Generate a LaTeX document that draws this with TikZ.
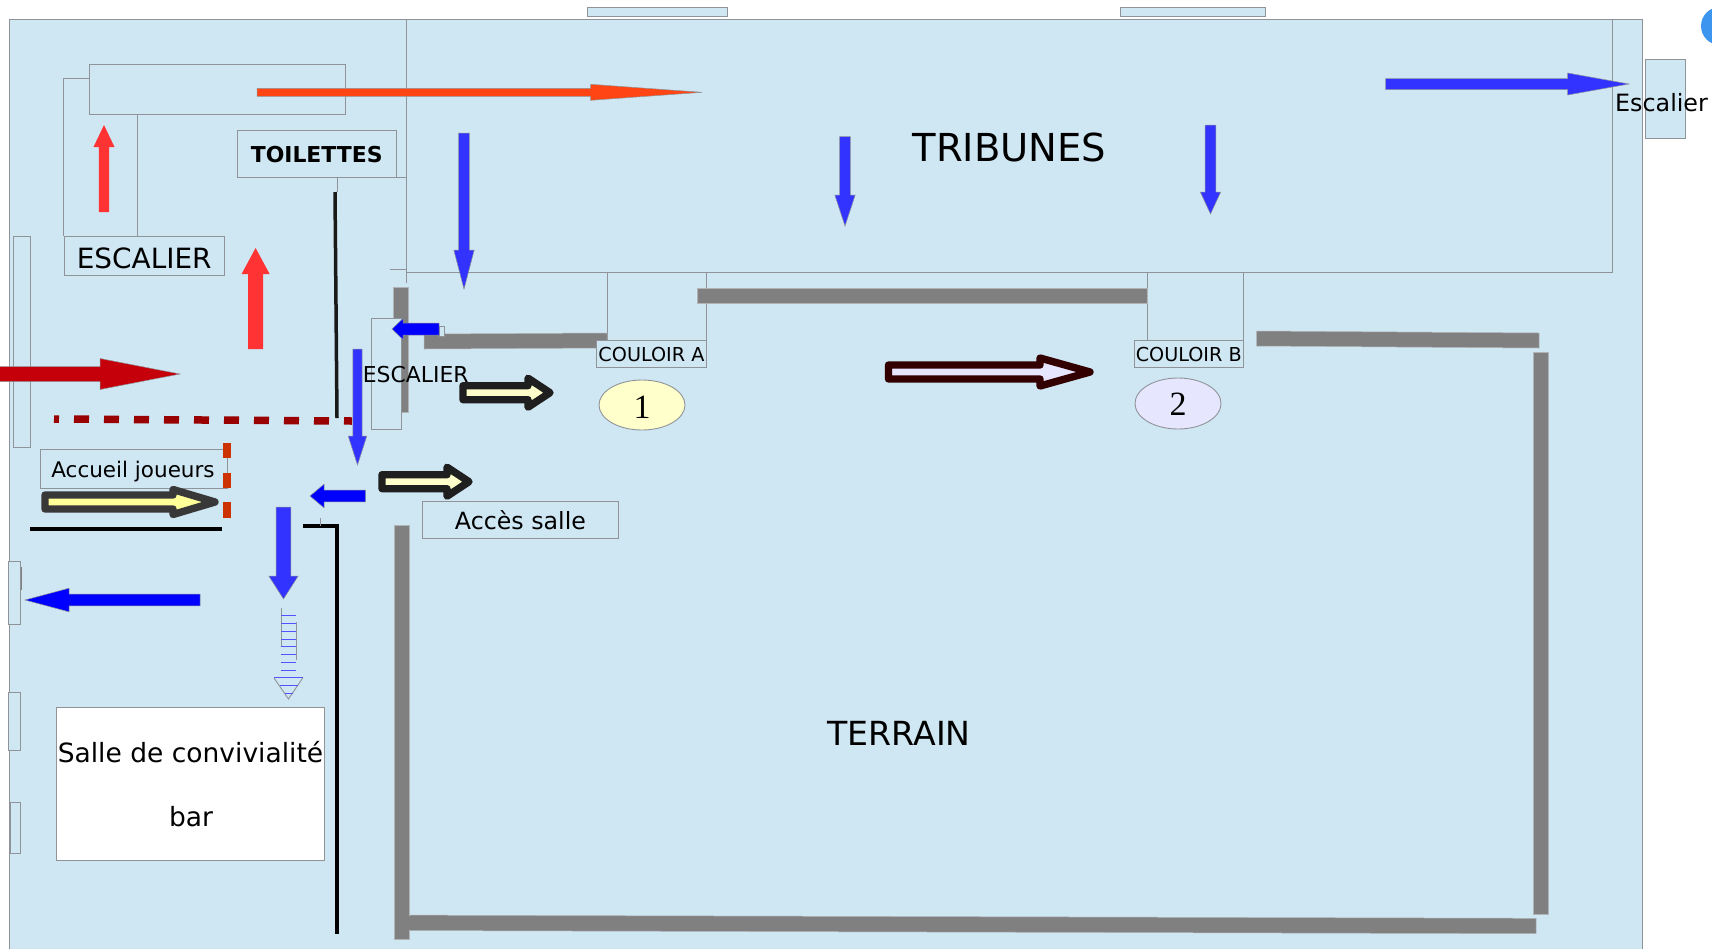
\documentclass[tikz,border=0pt]{standalone}
\usepackage{fontspec}
\usetikzlibrary{shapes.geometric}
\setmainfont{DejaVu Sans}
\newfontfamily\numfont{Liberation Serif}
\definecolor{bgc}{HTML}{CFE6F3}
\definecolor{lnc}{HTML}{909498}
\definecolor{wallc}{HTML}{808080}
\definecolor{blc}{HTML}{3333FF}
\definecolor{bbc}{HTML}{0000FF}
\definecolor{rdc}{HTML}{FF3333}
\definecolor{orgc}{HTML}{FF4513}
\definecolor{drdc}{HTML}{C5000B}
\definecolor{dshc}{HTML}{990000}
\definecolor{orsc}{HTML}{CC3300}
\definecolor{ylwc}{HTML}{FFFFCC}
\definecolor{ylbc}{HTML}{FFFF99}
\definecolor{lavc}{HTML}{E6E6FF}
\definecolor{marc}{HTML}{330000}
\definecolor{circ}{HTML}{3C96F0}
\newcommand{\fs}[1]{\fontsize{#1}{#1}\selectfont}
\newcommand{\lowr}[2]{\raisebox{-#1pt}[\height][\depth]{#2}}
% horizontal arrow: start, head base, tip, centre y, half body, half head
\newcommand{\harr}[7]{\draw[#1] (#2,#5-#6)--(#3,#5-#6)--(#3,#5-#7)--(#4,#5)--(#3,#5+#7)--(#3,#5+#6)--(#2,#5+#6)--cycle;}
% vertical arrow: start, head base, tip, centre x, half body, half head
\newcommand{\varr}[7]{\draw[#1] (#5-#6,#2)--(#5-#6,#3)--(#5-#7,#3)--(#5,#4)--(#5+#7,#3)--(#5+#6,#3)--(#5+#6,#2)--cycle;}
\tikzset{
  boxs/.style={draw=lnc,line width=.9pt,fill=bgc},
  thinl/.style={draw=lnc,line width=.9pt},
  wallbar/.style={fill=wallc,draw=lnc!70!white,line width=.5pt},
  ablue/.style={fill=blc,draw=lnc,line width=.5pt},
  abb/.style={fill=bbc,draw=lnc,line width=.5pt},
  ared/.style={fill=rdc,draw=none},
  hatchl/.style={draw=blc!85!white,line width=.9pt},
  lbl/.style={inner sep=0pt,text=black},
  blk/.style={draw=#1,line width=7.4pt,line join=round},
}
\begin{document}
\begin{tikzpicture}[x=1pt,y=-1pt]
\useasboundingbox (0,0) rectangle (1712,948);
\fill[white] (0,0) rectangle (1712,948);
\begin{scope}
\clip (0,0) rectangle (1712,948);
% circle cut by the right edge
\fill[circ] (1720,26) circle (19);
% hall
\draw[boxs] (9.6,19) -- (1642,19) -- (1642,960) -- (9.6,960) -- cycle;
\draw[boxs] (587,7) rectangle (727.5,16);
\draw[boxs] (1120,7) rectangle (1265,16);
\draw[boxs] (406,19) rectangle (1612,272);
\draw[thinl] (406,272) -- (406,283);
\draw[thinl] (390,269) -- (406,269);
% couloirs
\draw[thinl] (607,272) -- (607,340);
\draw[thinl] (706,272) -- (706,340);
\draw[thinl] (1147,272) -- (1147,340);
\draw[thinl] (1243,272) -- (1243,340);
% walls
\path[wallbar] (697,288) rectangle (1147,303);
\path[wallbar] (393,287) rectangle (408,412);
\path[wallbar] (424,334) -- (607,333) -- (607,348) -- (424,349) -- cycle;
\path[wallbar] (1256.5,331) -- (1539,333) -- (1539,348) -- (1256.5,346) -- cycle;
\path[wallbar] (1533,352) rectangle (1548.7,914.3);
\path[wallbar] (400,915.1) -- (1536,918.3) -- (1536,933.7) -- (400,930.5) -- cycle;
\path[wallbar] (394.7,525) rectangle (409.7,939.3);
\fill[wallc] (405,916) rectangle (412,930);
% upper-left stair
\draw[thinl] (89,78) -- (63.5,78) -- (63.5,236);
\draw[thinl] (137.4,114) -- (137.4,236);
\draw[boxs] (89,64) rectangle (345.6,114);
\node[boxs,lbl,minimum width=160.5pt,minimum height=39pt,anchor=north west,font=\fs{27.9}] (escA) at (63.5,236) {\lowr{2}{ESCALIER}};
\node[boxs,lbl,minimum width=158.5pt,minimum height=47pt,anchor=north west,font=\bfseries\fs{21.9}] (toil) at (237,130) {\lowr{1}{TOILETTES}};
\draw[thinl] (395.5,177) -- (406,177);
\draw[thinl] (337,177) -- (337,192);
% left side windows and doors
\draw[boxs] (13.4,236) rectangle (30.6,447);
\draw[wallc,line width=1pt] (21.8,567) -- (21.8,590);
\draw[boxs] (8.4,561.7) rectangle (20.7,624);
\draw[boxs] (8.4,692.7) rectangle (20.7,750.7);
\draw[boxs] (10.3,802) rectangle (20.7,853);
% right stair
\draw[boxs] (1645,59) rectangle (1685.5,138);
% accueil
\draw[thinl] (227,449) -- (40,449) -- (40,488) -- (227,488) -- cycle;
\node[lbl,font=\fs{21.5}] (acc) at (133,472) {Accueil joueurs};
\foreach \a/\b in {443/458,473/488,502/518} \fill[orsc] (223,\a) rectangle (231,\b);
% dashed wall
\draw[dshc,line width=7.5pt,dash pattern=on 15pt off 15pt,dash phase=10pt] (54,419) -- (352,421);
% black partitions
\draw[black!90,line width=3.5pt] (335,192) -- (337,418);
\draw[black,line width=3.7pt] (30,528.7) -- (222,528.7);
\draw[black,line width=3.5pt] (303,526) -- (337,526) -- (337,934);
\draw[lnc,line width=1pt] (320,518) -- (320,526);
% stair centre
\draw[boxs] (371,318) rectangle (401,429);
\draw[boxs] (439,326) rectangle (444,336);
\harr{abb}{439}{403}{392}{329}{6}{10.5}
\node[lbl,font=\fs{21.9}] (escB) at (415.7,375) {ESCALIER};
% couloir labels
\node[boxs,lbl,minimum width=110pt,minimum height=27pt,anchor=north west,font=\fs{19.2}] (coulA) at (596,340) {\lowr{1}{COULOIR A}};
\node[boxs,lbl,minimum width=109.4pt,minimum height=27pt,anchor=north west,font=\fs{19.2}] (coulB) at (1133.6,340) {\lowr{1}{COULOIR B}};
\node[ellipse,draw=lnc,line width=.9pt,fill=ylwc,minimum width=86pt,minimum height=50pt,inner sep=0pt,font=\numfont\fs{34}] (n1) at (642,405) {\lowr{2}{1}};
\node[ellipse,draw=lnc,line width=.9pt,fill=lavc,minimum width=86pt,minimum height=51pt,inner sep=0pt,font=\numfont\fs{34}] (n2) at (1178,403.5) {\lowr{1}{2}};
\node[boxs,lbl,minimum width=196pt,minimum height=37.5pt,anchor=north west,font=\fs{23.7}] (acces) at (422,500.7) {Accès salle};
% white room
\node[draw=lnc,line width=.9pt,fill=white,minimum width=268pt,minimum height=152.7pt,inner sep=0pt,anchor=north west] (salle) at (56.3,707) {};
\node[lbl,font=\fs{26.5}] (sa) at (190.5,752) {Salle de convivialité};
\node[lbl,font=\fs{26.5}] (ba) at (191,817) {bar};
% headings
\node[lbl,font=\fs{38.5}] (trib) at (1009.5,147.3) {TRIBUNES};
\node[lbl,font=\fs{33.2}] (terr) at (899,733.5) {TERRAIN};
\node[lbl,font=\fs{23.8}] (escC) at (1661.5,103) {Escalier};
% big arrows
\harr{fill=orgc,draw=lnc,line width=.5pt}{257}{590.7}{702}{92.3}{4}{8}
\varr{ared}{212}{147}{125}{104}{5.2}{10.5}
\varr{ared}{349}{274}{248}{255.6}{7.6}{14}
\harr{fill=drdc,draw=lnc,line width=.5pt}{-2}{100}{180}{374}{7.5}{15.5}
\varr{ablue}{133}{250}{289}{464}{5.3}{10.2}
\varr{ablue}{136.5}{195}{226}{845}{5.3}{10.2}
\varr{ablue}{125}{192}{214}{1210.5}{5.3}{10.2}
\harr{ablue}{1385.7}{1567.6}{1629}{84}{5.5}{11}
\varr{ablue}{349}{436}{465}{357.5}{4.7}{9.3}
\varr{ablue}{507}{576}{599}{283.5}{7.3}{14.7}
\harr{abb}{365.5}{324}{310}{496}{5.8}{11.8}
\harr{abb}{200}{69}{25}{600}{5.8}{11.8}
% outlined arrows
\harr{blk=black!88,fill=ylwc}{382}{447}{469}{481.7}{7}{14.5}
\harr{blk=black!88,fill=ylwc}{463}{528}{550}{392.7}{7}{14.5}
\harr{blk=black!78,fill=ylbc}{45}{173}{215}{502}{7}{12.5}
\harr{blk=marc,fill=lavc}{888.5}{1040}{1090}{372}{7}{14}
% hatched arrow
\draw[thinl] (281.3,608) -- (281.3,646.7);
\draw[thinl] (296,622) -- (296,660);
\draw[thinl] (274,678) -- (288.5,699) -- (302.7,678);
\foreach \yy in {615.7,623,631,639,646.7,654.7,662.3,670}
  \draw[hatchl] (281.3,\yy) -- (296,\yy);
\draw[hatchl] (274,677.7) -- (302.7,677.7);
\draw[hatchl] (280,685) -- (297.7,685);
\draw[hatchl] (285,693.3) -- (293,693.3);
\end{scope}
\end{tikzpicture}
\end{document}
